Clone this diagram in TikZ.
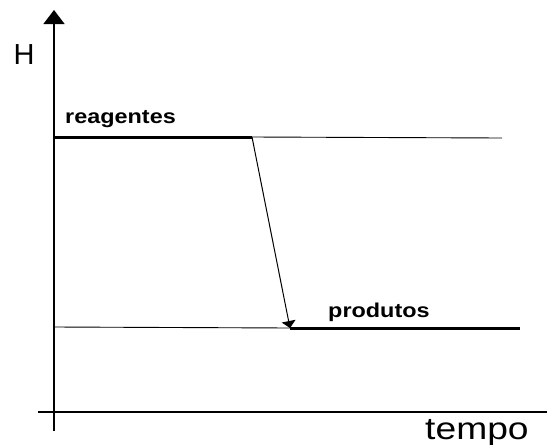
\documentclass[tikz,border=0pt]{standalone}
\usepackage{fontspec}
\setmainfont{Liberation Sans}
\usetikzlibrary{arrows.meta}
\begin{document}
\begin{tikzpicture}[x=1pt,y=-1pt,
  axis/.style={line width=1.3pt},
  guide/.style={line width=0.9pt, draw=black},
  level/.style={line width=3pt},
  drop/.style={line width=1pt, -{Triangle[width=14pt,length=7pt]}},
  label/.style={inner sep=0pt, font=\fontsize{20}{20}\selectfont\bfseries, xscale=1.17},
  axlabel/.style={inner sep=0pt}]
  \useasboundingbox (0,0) rectangle (547,445);

  % axes
  \coordinate (ybot) at (54,431);
  \coordinate (ytop) at (54,10);
  \coordinate (xl) at (38,412);
  \coordinate (xr) at (547,412);
  \draw[axis, -{Triangle[width=21pt,length=14pt]}] (ybot) -- (ytop);
  \draw[axis] (xl) -- (xr);
  \node[axlabel, font=\fontsize{29}{29}\selectfont] (H) at (24,54.5) {H};
  \node[axlabel, anchor=base west, font=\fontsize{31}{31}\selectfont, xscale=1.2] (tempo) at (425,439) {tempo};

  % enthalpy levels
  \coordinate (r1) at (54,137);
  \coordinate (r2) at (252,137);
  \coordinate (r3) at (502,138);
  \coordinate (p0) at (54,327);
  \coordinate (p1) at (290,328);
  \coordinate (p2) at (520,328);
  \draw[guide] (r2) -- (r3);
  \draw[guide] (p0) -- (p1);
  \draw[level] (r1) -- (r2);
  \draw[level] (p1) -- (p2);
  \draw[drop] (r2) -- (p1);

  \node[label, anchor=base west] (reag) at (65,123) {reagentes};
  \node[label, anchor=base west] (prod) at (328,317) {produtos};
\end{tikzpicture}
\end{document}
